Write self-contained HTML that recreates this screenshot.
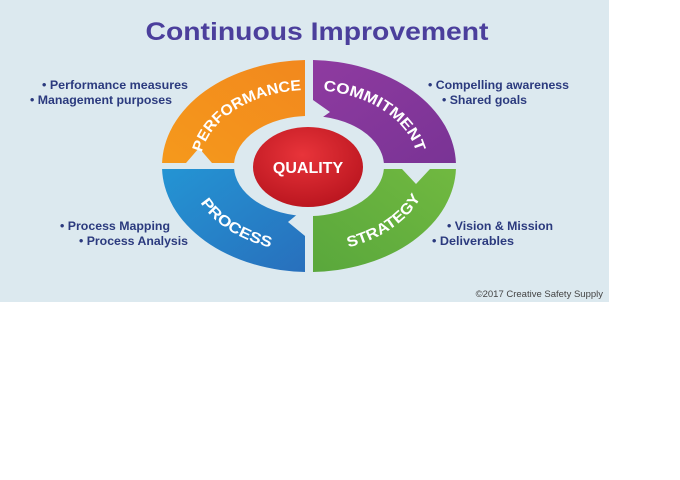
<!DOCTYPE html>
<html><head><meta charset="utf-8"><style>
body{margin:0;width:680px;height:480px;background:#fff;overflow:hidden}
svg{display:block}
</style></head><body>
<svg width="680" height="480" xmlns="http://www.w3.org/2000/svg" font-family="Liberation Sans, sans-serif">
<defs>
<linearGradient id="go" x1="0" y1="1" x2="1" y2="0"><stop offset="0" stop-color="#f7a21b"/><stop offset="1" stop-color="#f07f1e"/></linearGradient>
<linearGradient id="gp" x1="0" y1="0" x2="1" y2="1"><stop offset="0" stop-color="#9a3fa6"/><stop offset="1" stop-color="#6e2f8f"/></linearGradient>
<linearGradient id="gg" x1="1" y1="0" x2="0" y2="1"><stop offset="0" stop-color="#7dc242"/><stop offset="1" stop-color="#4d9e3a"/></linearGradient>
<linearGradient id="gb" x1="0" y1="0" x2="1" y2="1"><stop offset="0" stop-color="#22a8e0"/><stop offset="1" stop-color="#2a5cb0"/></linearGradient>
<radialGradient id="gr" cx="0.45" cy="0.35" r="0.7"><stop offset="0" stop-color="#e8343a"/><stop offset="1" stop-color="#b8141e"/></radialGradient>
<clipPath id="q1"><rect x="0" y="0" width="305" height="163"/></clipPath>
<clipPath id="q2"><rect x="313" y="0" width="300" height="163"/></clipPath>
<clipPath id="q3"><rect x="313" y="169" width="300" height="200"/></clipPath>
<clipPath id="q4"><rect x="0" y="169" width="305" height="200"/></clipPath>
<path id="ring" d="M162,166 a147,106 0 1,0 294,0 a147,106 0 1,0 -294,0 Z M234,166 a75,50 0 1,1 150,0 a75,50 0 1,1 -150,0 Z" fill-rule="evenodd"/>
<path id="tp1" d="M200,166 A109,76 0 0,1 309,90"/>
<path id="tp2" d="M309,90 A109,76 0 0,1 418,166"/>
<path id="tp3" d="M309,252 A120,86 0 0,0 429,166"/>
<path id="tp4" d="M189,166 A120,86 0 0,0 309,252"/>
</defs>
<rect x="0" y="0" width="609" height="302" fill="#dce9ef"/>
<text x="317" y="40" text-anchor="middle" font-size="25" font-weight="bold" fill="#4b3f9c" textLength="343" lengthAdjust="spacingAndGlyphs">Continuous Improvement</text>
<use href="#ring" fill="url(#go)" fill-rule="evenodd" clip-path="url(#q1)"/>
<use href="#ring" fill="url(#gp)" fill-rule="evenodd" clip-path="url(#q2)"/>
<use href="#ring" fill="url(#gg)" fill-rule="evenodd" clip-path="url(#q3)"/>
<use href="#ring" fill="url(#gb)" fill-rule="evenodd" clip-path="url(#q4)"/>
<g fill="#dce9ef">
<polygon points="186,163 212,163 199,148"/>
<polygon points="313,100 313,124 330,112"/>
<polygon points="402,169 430,169 416,184"/>
<polygon points="305,208 305,236 288,222"/>
</g>
<g fill="#fff" font-weight="bold" font-size="15">
<text><textPath href="#tp1" startOffset="52%" text-anchor="middle" textLength="125" lengthAdjust="spacingAndGlyphs">PERFORMANCE</textPath></text>
<text><textPath href="#tp2" startOffset="50%" text-anchor="middle" textLength="118" lengthAdjust="spacingAndGlyphs">COMMITMENT</textPath></text>
<text><textPath href="#tp3" startOffset="52%" text-anchor="middle" textLength="90" lengthAdjust="spacingAndGlyphs">STRATEGY</textPath></text>
<text><textPath href="#tp4" startOffset="50%" text-anchor="middle" textLength="85" lengthAdjust="spacingAndGlyphs">PROCESS</textPath></text>
</g>
<ellipse cx="308" cy="167" rx="55" ry="40" fill="url(#gr)"/>
<text x="308" y="173" text-anchor="middle" font-size="16" font-weight="bold" fill="#fff">QUALITY</text>
<g font-size="11.5" font-weight="bold" fill="#2b3a7e">
<text x="42" y="89" textLength="146" lengthAdjust="spacingAndGlyphs">• Performance measures</text>
<text x="30" y="104" textLength="142" lengthAdjust="spacingAndGlyphs">• Management purposes</text>
<text x="428" y="89" textLength="141" lengthAdjust="spacingAndGlyphs">• Compelling awareness</text>
<text x="442" y="104" textLength="85" lengthAdjust="spacingAndGlyphs">• Shared goals</text>
<text x="60" y="230" textLength="110" lengthAdjust="spacingAndGlyphs">• Process Mapping</text>
<text x="79" y="245" textLength="109" lengthAdjust="spacingAndGlyphs">• Process Analysis</text>
<text x="447" y="230" textLength="106" lengthAdjust="spacingAndGlyphs">• Vision &amp; Mission</text>
<text x="432" y="245" textLength="82" lengthAdjust="spacingAndGlyphs">• Deliverables</text>
</g>
<text x="603" y="297" text-anchor="end" font-size="9.5" fill="#444">©2017 Creative Safety Supply</text>
</svg>
</body></html>
